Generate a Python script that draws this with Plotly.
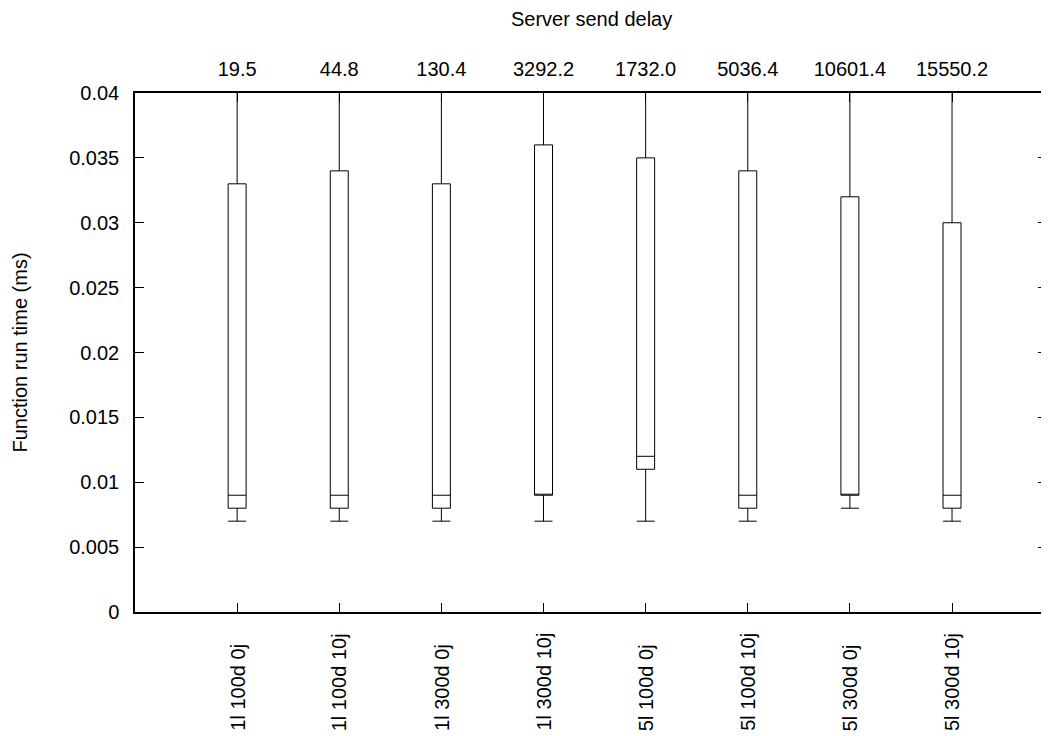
import plotly.graph_objects as go

categories = ["1l 100d 0j", "1l 100d 10j", "1l 300d 0j", "1l 300d 10j",
              "5l 100d 0j", "5l 100d 10j", "5l 300d 0j", "5l 300d 10j"]
send_delay = ["19.5", "44.8", "130.4", "3292.2", "1732.0", "5036.4", "10601.4", "15550.2"]
whisker_low = [0.007, 0.007, 0.007, 0.007, 0.007, 0.007, 0.008, 0.007]
box_low = [0.008, 0.008, 0.008, 0.009, 0.011, 0.008, 0.009, 0.008]
median = [0.009, 0.009, 0.009, 0.009, 0.012, 0.009, 0.009, 0.009]
box_high = [0.033, 0.034, 0.033, 0.036, 0.035, 0.034, 0.032, 0.030]
whisker_high = [0.045, 0.045, 0.045, 0.045, 0.045, 0.045, 0.045, 0.045]  # beyond top of plot
ytick_vals = [0, 0.005, 0.01, 0.015, 0.02, 0.025, 0.03, 0.035, 0.04]
ytick_text = ["0", "0.005", "0.01", "0.015", "0.02", "0.025", "0.03", "0.035", "0.04"]

positions = list(range(1, len(categories) + 1))
FONT = "Liberation Sans, Arial, Helvetica, sans-serif"
FS = 20

fig = go.Figure()
fig.add_trace(go.Box(
    x=positions,
    q1=box_low, median=median, q3=box_high,
    lowerfence=whisker_low, upperfence=whisker_high,
    width=0.176, whiskerwidth=1,
    fillcolor="white",
    line=dict(color="black", width=1),
    boxpoints=False,
    showlegend=False,
    hoverinfo="skip",
))
# invisible trace to activate the top axis
fig.add_trace(go.Scatter(x=positions, y=median, xaxis="x2", mode="markers",
                         marker=dict(opacity=0), showlegend=False, hoverinfo="skip"))

xr = [0, 8.93]
fig.update_layout(
    width=1041, height=728,
    margin=dict(l=127, r=0, t=85, b=124),
    paper_bgcolor="white", plot_bgcolor="white",
    font=dict(family=FONT, size=FS, color="black"),
    xaxis=dict(range=xr, tickvals=positions, showticklabels=False,
               ticks="inside", ticklen=9, tickcolor="black", tickwidth=1,
               showline=True, linecolor="black", linewidth=1.5, mirror="ticks",
               showgrid=False, zeroline=False),
    xaxis2=dict(range=xr, overlaying="x", side="top", tickvals=positions,
                ticktext=send_delay, ticks="", showline=False, showgrid=False,
                zeroline=False, ticklabelstandoff=12),
    yaxis=dict(range=[0, 0.04], tickvals=ytick_vals, ticktext=ytick_text,
               ticks="inside", ticklen=9, tickcolor="black", tickwidth=1,
               showline=True, linecolor="black", linewidth=1.5, mirror="ticks",
               showgrid=False, zeroline=False, ticklabelstandoff=10),
)

annotations = []
for p, c in zip(positions, categories):
    annotations.append(dict(x=p, xref="x", y=0, yref="paper", yshift=-121,
                            text=c, textangle=-90, showarrow=False,
                            xanchor="center", yanchor="bottom",
                            font=dict(family=FONT, size=FS, color="black")))
annotations.append(dict(x=0, xref="paper", xshift=-116, y=0.5, yref="paper",
                        text="Function run time (ms)", textangle=-90, showarrow=False,
                        xanchor="center", yanchor="middle",
                        font=dict(family=FONT, size=FS, color="black")))
annotations.append(dict(x=0.5, xref="paper", y=1, yref="paper", yshift=74,
                        text="Server send delay", showarrow=False,
                        xanchor="center", yanchor="middle",
                        font=dict(family=FONT, size=FS, color="black")))
fig.update_layout(annotations=annotations)

fig.write_html("out.html")
